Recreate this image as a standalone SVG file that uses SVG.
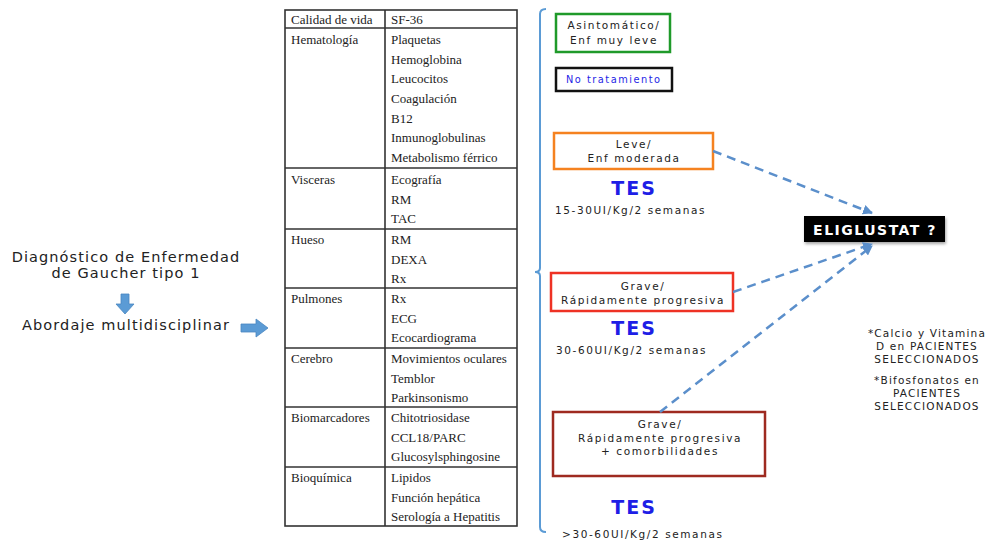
<svg xmlns="http://www.w3.org/2000/svg" width="987" height="540" viewBox="0 0 987 540">
<defs>
<style>
.tb{font-family:"Liberation Serif",serif;font-size:13px;fill:#222}
.v{font-family:"DejaVu Sans",Verdana,sans-serif;fill:#222}
.s{font-size:10.5px;letter-spacing:1.6px}
.L{font-size:14.5px;letter-spacing:1.1px;text-anchor:middle}
.n{font-size:10.5px;letter-spacing:1.2px;text-anchor:middle}
.tes{font-family:"DejaVu Sans",Verdana,sans-serif;font-size:19px;font-weight:bold;letter-spacing:2px;fill:#1e1ee6;text-anchor:middle}
.ln{stroke:#333;stroke-width:1.6;fill:none}
.dash{stroke:#5b8fcb;stroke-width:2.5;stroke-dasharray:9 6;fill:none}
.blk{fill:#5b9bd5;stroke:#4a86c0;stroke-width:0.8}
</style>
<marker id="ah" viewBox="0 0 10 10" refX="9" refY="5" markerWidth="4" markerHeight="4" orient="auto" markerUnits="strokeWidth">
<path d="M0,0 L10,5 L0,10 z" fill="#5b8fcb"/>
</marker>
<filter id="sh" x="-10%" y="-20%" width="130%" height="160%"><feDropShadow dx="1" dy="2" stdDeviation="1.5" flood-color="#000" flood-opacity="0.35"/></filter>
</defs>
<rect width="987" height="540" fill="#fff"/>

<g id="diagnostico">
<text class="v L" x="126" y="262">Diagnóstico de Enfermedad</text>
<text class="v L" x="126" y="278">de Gaucher tipo 1</text>
</g>
<g id="flecha-abajo">
<path class="blk" d="M121,294 H129 V304 H134 L125,314 L116,304 H121 Z"/>
</g>
<g id="abordaje">
<text class="v L" x="126" y="330">Abordaje multidisciplinar</text>
</g>
<g id="flecha-derecha">
<path class="blk" d="M241,324 H256 V319 L268,328 L256,337 V332 H241 Z"/>
</g>

<g id="tabla">
<rect class="ln" x="285" y="10" width="232" height="516"/>
<line class="ln" x1="385" y1="10" x2="385" y2="526"/>
<line class="ln" x1="285" y1="28" x2="517" y2="28"/>
<line class="ln" x1="285" y1="168" x2="517" y2="168"/>
<line class="ln" x1="285" y1="229" x2="517" y2="229"/>
<line class="ln" x1="285" y1="288" x2="517" y2="288"/>
<line class="ln" x1="285" y1="348" x2="517" y2="348"/>
<line class="ln" x1="285" y1="407" x2="517" y2="407"/>
<line class="ln" x1="285" y1="467" x2="517" y2="467"/>
<text class="tb" x="291" y="24">Calidad de vida</text>
<text class="tb" x="391" y="24">SF-36</text>
<text class="tb" x="291" y="44">Hematología</text>
<text class="tb" x="391" y="44">Plaquetas</text>
<text class="tb" x="391" y="63.5">Hemoglobina</text>
<text class="tb" x="391" y="83">Leucocitos</text>
<text class="tb" x="391" y="103">Coagulación</text>
<text class="tb" x="391" y="122.5">B12</text>
<text class="tb" x="391" y="142">Inmunoglobulinas</text>
<text class="tb" x="391" y="162">Metabolismo férrico</text>
<text class="tb" x="291" y="184">Visceras</text>
<text class="tb" x="391" y="184">Ecografía</text>
<text class="tb" x="391" y="203.5">RM</text>
<text class="tb" x="391" y="223">TAC</text>
<text class="tb" x="291" y="244">Hueso</text>
<text class="tb" x="391" y="244">RM</text>
<text class="tb" x="391" y="263.5">DEXA</text>
<text class="tb" x="391" y="283">Rx</text>
<text class="tb" x="291" y="303">Pulmones</text>
<text class="tb" x="391" y="303">Rx</text>
<text class="tb" x="391" y="322.5">ECG</text>
<text class="tb" x="391" y="342">Ecocardiograma</text>
<text class="tb" x="291" y="363">Cerebro</text>
<text class="tb" x="391" y="363">Movimientos oculares</text>
<text class="tb" x="391" y="382.5">Temblor</text>
<text class="tb" x="391" y="402">Parkinsonismo</text>
<text class="tb" x="291" y="422">Biomarcadores</text>
<text class="tb" x="391" y="422">Chitotriosidase</text>
<text class="tb" x="391" y="441.5">CCL18/PARC</text>
<text class="tb" x="391" y="461">Glucosylsphingosine</text>
<text class="tb" x="291" y="482">Bioquímica</text>
<text class="tb" x="391" y="482">Lipidos</text>
<text class="tb" x="391" y="501.5">Función hepática</text>
<text class="tb" x="391" y="521">Serología a Hepatitis</text>
</g>

<g id="llave">
<path d="M546,9 Q540,9 540,14 V268 Q540,272 535,272 Q540,272 540,276 V527 Q540,532 546,532" fill="none" stroke="#5b9bd5" stroke-width="2"/>
</g>

<g id="asintomatico">
<rect x="556" y="14" width="114" height="38" fill="#fff" stroke="#1f9a2a" stroke-width="2.5"/>
<text class="v s" text-anchor="middle" x="614" y="29">Asintomático/</text>
<text class="v s" text-anchor="middle" x="614" y="44">Enf muy leve</text>
</g>
<g id="no-tratamiento">
<rect x="556" y="68" width="116" height="23" fill="#fff" stroke="#111" stroke-width="2.5"/>
<text class="v" font-size="9.8" letter-spacing="1.5" x="566" y="83" style="fill:#1e1ee6">No tratamiento</text>
</g>
<g id="leve">
<rect x="554" y="133" width="159" height="36" fill="#fff" stroke="#f58220" stroke-width="2.5"/>
<text class="v s" text-anchor="middle" x="634" y="148">Leve/</text>
<text class="v s" text-anchor="middle" x="634" y="162">Enf moderada</text>
</g>
<g id="tes1">
<text class="tes" x="634" y="195">TES</text>
<text class="v s" x="555" y="214">15-30UI/Kg/2 semanas</text>
</g>
<g id="grave">
<rect x="551" y="273" width="182" height="38" fill="#fff" stroke="#ee3224" stroke-width="2.5"/>
<text class="v s" text-anchor="middle" x="643" y="290">Grave/</text>
<text class="v s" text-anchor="middle" x="643" y="304">Rápidamente progresiva</text>
</g>
<g id="tes2">
<text class="tes" x="634" y="335">TES</text>
<text class="v s" x="556" y="354">30-60UI/Kg/2 semanas</text>
</g>
<g id="grave-comorbilidades">
<rect x="553" y="412" width="212" height="64" fill="#fff" stroke="#9e2a20" stroke-width="2.5"/>
<text class="v s" text-anchor="middle" x="660" y="428">Grave/</text>
<text class="v s" text-anchor="middle" x="660" y="442">Rápidamente progresiva</text>
<text class="v s" text-anchor="middle" x="660" y="455">+ comorbilidades</text>
</g>
<g id="tes3">
<text class="tes" x="634" y="514">TES</text>
<text class="v s" x="562" y="538">&gt;30-60UI/Kg/2 semanas</text>
</g>

<g id="eliglustat">
<rect x="804" y="216" width="141" height="26" fill="#000" filter="url(#sh)"/>
<text class="v" font-size="14" font-weight="bold" letter-spacing="1.5" text-anchor="middle" x="875" y="235" style="fill:#fff">ELIGLUSTAT ?</text>
</g>

<g id="notas">
<text class="v n" x="927" y="337">*Calcio y Vitamina</text>
<text class="v n" x="927" y="350">D en PACIENTES</text>
<text class="v n" x="927" y="363">SELECCIONADOS</text>
<text class="v n" x="927" y="384">*Bifosfonatos en</text>
<text class="v n" x="927" y="397">PACIENTES</text>
<text class="v n" x="927" y="410">SELECCIONADOS</text>
</g>

<g id="conectores">
<line class="dash" x1="713" y1="151" x2="872" y2="213" marker-end="url(#ah)"/>
<line class="dash" x1="733" y1="292" x2="872" y2="244" marker-end="url(#ah)"/>
<line class="dash" x1="660" y1="412" x2="872" y2="246" marker-end="url(#ah)"/>
</g>
</svg>
